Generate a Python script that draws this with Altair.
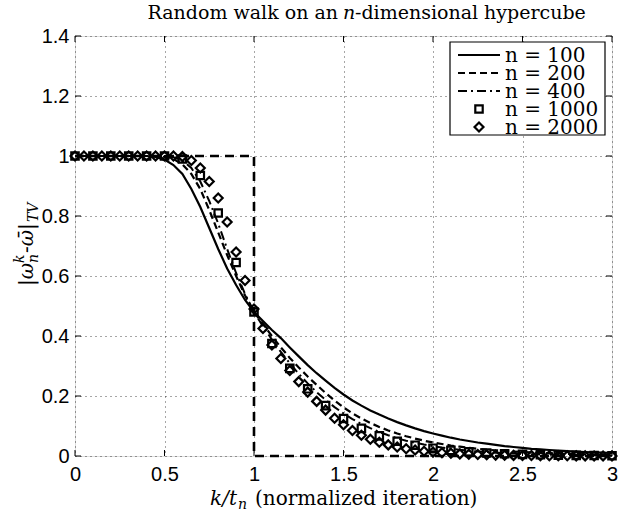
import altair as alt
import pandas as pd

# ---- data -------------------------------------------------------------
# normalized iteration k/t_n
x_fine = [round(0.05 * i, 2) for i in range(61)]
x_coarse = [round(0.1 * i, 1) for i in range(31)]

# total-variation distance to stationarity
tv_n100 = [1, 1, 1, 1, 1, 1, 1, 1, 1,
           0.997, 0.988, 0.97, 0.94, 0.89, 0.83, 0.76, 0.69, 0.625, 0.57, 0.52,
           0.48, 0.45, 0.42, 0.393, 0.362, 0.332, 0.303, 0.276, 0.251, 0.227,
           0.205, 0.185, 0.168, 0.152, 0.138, 0.125, 0.113, 0.102, 0.092, 0.083,
           0.075, 0.068, 0.061, 0.055, 0.050, 0.045, 0.041, 0.037, 0.033, 0.030,
           0.027, 0.024, 0.022, 0.020, 0.018, 0.016, 0.0145, 0.013, 0.012, 0.011,
           0.010]
tv_n200 = [1, 1, 1, 1, 1, 1, 1, 1, 1, 1,
           0.997, 0.99, 0.972, 0.94, 0.89, 0.82, 0.745, 0.67, 0.60, 0.535,
           0.48, 0.44, 0.40, 0.362, 0.327, 0.295, 0.265, 0.237, 0.21, 0.185,
           0.162, 0.142, 0.125, 0.11, 0.097, 0.085, 0.075, 0.066, 0.058, 0.051,
           0.045, 0.04, 0.035, 0.031, 0.027, 0.024, 0.021, 0.019, 0.017, 0.015,
           0.013, 0.012, 0.010, 0.009, 0.008, 0.007, 0.0063, 0.0056, 0.005, 0.0045,
           0.004]
tv_n400 = [1, 1, 1, 1, 1, 1, 1, 1, 1, 1, 1,
           0.996, 0.985, 0.96, 0.915, 0.85, 0.775, 0.69, 0.61, 0.54,
           0.48, 0.432, 0.388, 0.347, 0.309, 0.274, 0.242, 0.213, 0.187, 0.163,
           0.142, 0.123, 0.107, 0.093, 0.08, 0.069, 0.059, 0.051, 0.044, 0.038,
           0.033, 0.028, 0.024, 0.021, 0.018, 0.015, 0.013, 0.011, 0.0095, 0.008,
           0.007, 0.006, 0.005, 0.0045, 0.004, 0.0035, 0.003, 0.0026, 0.0022, 0.002,
           0.0017]
tv_n1000 = [1, 1, 1, 1, 1, 1,
            0.99, 0.935, 0.81, 0.645, 0.48, 0.375, 0.292, 0.224, 0.168, 0.125,
            0.092, 0.067, 0.049, 0.036, 0.026, 0.019, 0.014, 0.010, 0.0075, 0.0055,
            0.004, 0.003, 0.002, 0.0015, 0.001]
tv_n2000 = [1, 1, 1, 1, 1, 1, 1, 1, 1, 1, 1, 1,
            0.998, 0.985, 0.96, 0.915, 0.86, 0.78, 0.68, 0.585,
            0.49, 0.425, 0.37, 0.325, 0.285, 0.248, 0.213, 0.182, 0.153, 0.126,
            0.104, 0.085, 0.069, 0.056, 0.046, 0.037, 0.030, 0.024, 0.020, 0.016,
            0.013, 0.011, 0.009, 0.007, 0.006, 0.005, 0.004, 0.003, 0.0025, 0.002,
            0.0017, 0.0014, 0.0011, 0.0009, 0.0007, 0.0006, 0.0005, 0.0004, 0.0003, 0.0003,
            0.0002]

# limiting cutoff profile
cutoff_x = [0, 1, 1, 3]
cutoff_y = [1, 1, 0, 0]

x_ticks = [0, 0.5, 1, 1.5, 2, 2.5, 3]
y_ticks = [0, 0.2, 0.4, 0.6, 0.8, 1, 1.2, 1.4]

legend_labels = ["n = 100", "n = 200", "n = 400", "n = 1000", "n = 2000"]

title_left = "Random walk on an"
title_var = "n"
title_right = "-dimensional hypercube"

# ---- layout -----------------------------------------------------------
W, H = 537, 420
SERIF = "DejaVu Serif"
SANS = "Liberation Sans"
SQ_SIZE, DM_SIZE = 55, 80

x_scale = alt.Scale(domain=[0, 3], nice=False, zero=False)
y_scale = alt.Scale(domain=[0, 1.4], nice=False, zero=False)

axis_style = dict(grid=True, gridColor="black", gridDash=[1, 4], gridOpacity=0.7,
                  gridWidth=1, ticks=False, tickSize=0, domain=False,
                  labelFont=SANS, labelFontSize=20, labelColor="black",
                  labelFlush=False, labelOverlap=False,
                  format="~g", title=None)

X = alt.X("x:Q", scale=x_scale,
          axis=alt.Axis(values=x_ticks, labelPadding=8, **axis_style))
Y = alt.Y("y:Q", scale=y_scale,
          axis=alt.Axis(values=y_ticks, labelPadding=6, **axis_style))

one_row = pd.DataFrame({"d": [0]})


def frame(xs, ys):
    return pd.DataFrame({"x": xs, "y": ys, "idx": list(range(len(xs)))})


layers = []

# cutoff step
layers.append(
    alt.Chart(frame(cutoff_x, cutoff_y))
    .mark_line(color="black", strokeWidth=2.6, strokeDash=[9, 6])
    .encode(x=X, y=Y, order=alt.Order("idx:Q"))
)

# finite-n curves
layers.append(
    alt.Chart(frame(x_fine, tv_n100))
    .mark_line(color="black", strokeWidth=2.2)
    .encode(x=X, y=Y)
)
layers.append(
    alt.Chart(frame(x_fine, tv_n200))
    .mark_line(color="black", strokeWidth=2.2, strokeDash=[7, 4])
    .encode(x=X, y=Y)
)
layers.append(
    alt.Chart(frame(x_fine, tv_n400))
    .mark_line(color="black", strokeWidth=2, strokeDash=[9, 4, 2, 4])
    .encode(x=X, y=Y)
)
layers.append(
    alt.Chart(frame(x_coarse, tv_n1000))
    .mark_point(shape="square", filled=False, color="black", strokeWidth=2.2,
                size=SQ_SIZE, opacity=1)
    .encode(x=X, y=Y)
)
layers.append(
    alt.Chart(frame(x_fine, tv_n2000))
    .mark_point(shape="diamond", filled=False, color="black", strokeWidth=2.2,
                size=DM_SIZE, opacity=1)
    .encode(x=X, y=Y)
)

# inward tick marks on all four sides
xt = pd.DataFrame({"x": x_ticks})
yt = pd.DataFrame({"y": y_ticks})
for y0, y1 in [(H, H - 6), (0, 6)]:
    layers.append(alt.Chart(xt).mark_rule(color="black", strokeWidth=1)
                  .encode(x=X, y=alt.value(y0), y2=alt.value(y1)))
for x0, x1 in [(0, 6), (W, W - 6)]:
    layers.append(alt.Chart(yt).mark_rule(color="black", strokeWidth=1)
                  .encode(y=Y, x=alt.value(x0), x2=alt.value(x1)))

# legend
LX0, LX1, LY0, LY1 = 375, 530, 6, 99
layers.append(
    alt.Chart(one_row).mark_rect(fill="white", stroke="black", strokeWidth=1.2)
    .encode(x=alt.value(LX0), x2=alt.value(LX1), y=alt.value(LY0), y2=alt.value(LY1))
)
row_y = [19, 37, 55, 73, 91]
line_styles = [dict(), dict(strokeDash=[7, 4]), dict(strokeDash=[9, 4, 2, 4])]
for i, style in enumerate(line_styles):
    layers.append(
        alt.Chart(one_row).mark_rule(color="black", strokeWidth=2.2, **style)
        .encode(x=alt.value(383), x2=alt.value(425), y=alt.value(row_y[i]))
    )
for i, (shape, size) in enumerate([("square", SQ_SIZE), ("diamond", DM_SIZE)]):
    layers.append(
        alt.Chart(one_row).mark_point(shape=shape, filled=False, color="black",
                                      strokeWidth=2.2, size=size, opacity=1)
        .encode(x=alt.value(404), y=alt.value(row_y[3 + i]))
    )
for i, label in enumerate(legend_labels):
    layers.append(
        alt.Chart(one_row).mark_text(font=SERIF, fontSize=20, align="left",
                                     baseline="middle", color="black")
        .encode(x=alt.value(430), y=alt.value(row_y[i] + 1), text=alt.value(label))
    )

# title
TY = -17
layers.append(alt.Chart(one_row).mark_text(font=SERIF, fontSize=19, align="right",
                                           baseline="alphabetic", color="black")
              .encode(x=alt.value(263), y=alt.value(TY), text=alt.value(title_left)))
layers.append(alt.Chart(one_row).mark_text(font=SERIF, fontSize=19, fontStyle="italic",
                                           align="center", baseline="alphabetic", color="black")
              .encode(x=alt.value(274), y=alt.value(TY), text=alt.value(title_var)))
layers.append(alt.Chart(one_row).mark_text(font=SERIF, fontSize=19, align="left",
                                           baseline="alphabetic", color="black")
              .encode(x=alt.value(280), y=alt.value(TY), text=alt.value(title_right)))

# x-axis title: k/t_n (normalized iteration)
XB = 469
layers.append(alt.Chart(one_row).mark_text(font=SERIF, fontSize=20, fontStyle="italic",
                                           align="right", baseline="alphabetic", color="black")
              .encode(x=alt.value(162), y=alt.value(XB), text=alt.value("k/t")))
layers.append(alt.Chart(one_row).mark_text(font=SERIF, fontSize=14, fontStyle="italic",
                                           align="left", baseline="alphabetic", color="black")
              .encode(x=alt.value(163), y=alt.value(XB + 4), text=alt.value("n")))
layers.append(alt.Chart(one_row).mark_text(font=SERIF, fontSize=20, align="left",
                                           baseline="alphabetic", color="black")
              .encode(x=alt.value(180), y=alt.value(XB), text=alt.value("(normalized iteration)")))

# y-axis title: |w_n^k - w̄|_TV, rotated
YB = -42
y_title_parts = [
    ("|ω", 20, "italic", YB, 250),
    ("k", 14, "italic", YB - 9, 227),
    ("n", 14, "italic", YB + 5, 227),
    ("-ω\u0304|", 20, "italic", YB, 217),
    ("TV", 14, "italic", YB + 5, 186),
]
for txt, fs, style, xb, ys in y_title_parts:
    layers.append(alt.Chart(one_row).mark_text(font=SERIF, fontSize=fs, fontStyle=style,
                                               angle=270, align="left",
                                               baseline="alphabetic", color="black")
                  .encode(x=alt.value(xb), y=alt.value(ys), text=alt.value(txt)))

chart = (
    alt.layer(*layers)
    .properties(width=W, height=H,
                padding={"left": 75, "top": 36, "right": 20, "bottom": 57},
                autosize=alt.AutoSizeParams(type="none"))
    .configure_view(stroke="black", strokeWidth=1.2)
    .configure(background="white")
)

chart.save("out.html", embed_options={"renderer": "svg", "actions": False})
